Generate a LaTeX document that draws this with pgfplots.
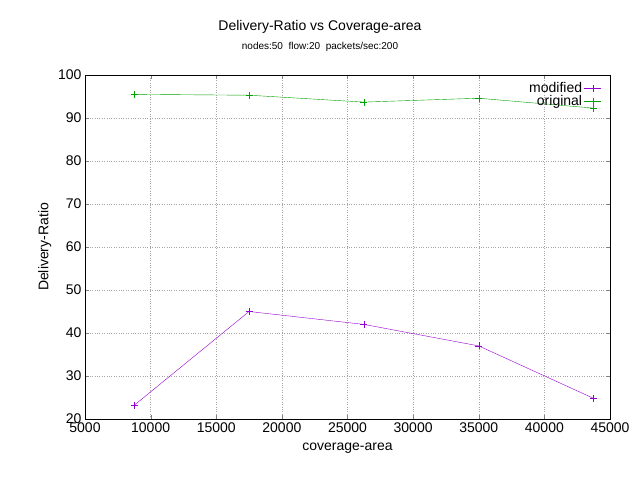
\documentclass[border=0pt]{standalone}
\usepackage{pgfplots}
\pgfplotsset{compat=1.18}
\usepackage{fontspec}
\setmainfont{Liberation Sans}
\definecolor{gpurple}{RGB}{148,0,211}
\definecolor{ggreen}{RGB}{0,160,0}
\begin{document}
\begin{tikzpicture}[x=1pt,y=1pt]
\path (0,0) rectangle (640,480);
\node at (320,453) {\fontsize{14}{16}\selectfont Delivery-Ratio vs Coverage-area};
\node at (320,433) {\fontsize{10}{12}\selectfont nodes:50\ \ flow:20\ \ packets/sec:200};
\begin{axis}[at={(85pt,61pt)},anchor=south west,scale only axis,
 width=525pt,height=344pt,
 xmin=5000,xmax=45000,ymin=20,ymax=100,
 xtick={5000,10000,...,45000},ytick={20,30,...,100},
 scaled x ticks=false,
 xticklabel style={/pgf/number format/.cd,1000 sep={},assume math mode=true},
 yticklabel style={/pgf/number format/assume math mode=true},
 tick label style={font=\fontsize{14}{16}\selectfont},
 label style={font=\fontsize{14}{16}\selectfont},
 xlabel={coverage-area},ylabel={Delivery-Ratio},
 xlabel style={yshift=-4pt},
 grid=major,major grid style={gray!70,dotted},
 tick align=inside,
 legend style={draw=none,fill=none,at={(0.99,0.99)},anchor=north east,font=\fontsize{14}{16}\selectfont,
   cells={anchor=east},row sep=-3pt},
 legend plot pos=right,
]
\addplot[gpurple,mark=+,mark size=3.5pt] coordinates {(8750,23.2)(17500,45)(26250,42)(35000,37)(43750,24.8)};
\addlegendentry{modified}
\addplot[ggreen,mark=+,mark size=3.5pt] coordinates {(8750,95.5)(17500,95.3)(26250,93.7)(35000,94.6)(43750,92.3)};
\addlegendentry{original}
\end{axis}
\end{tikzpicture}
\end{document}
